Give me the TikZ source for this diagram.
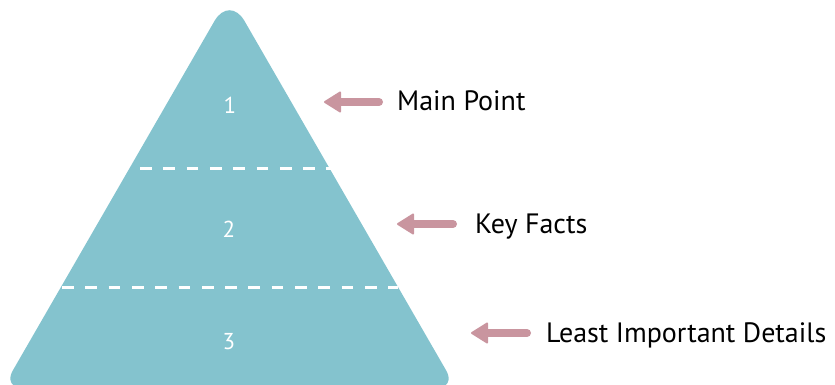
\documentclass[tikz,border=0pt]{standalone}
\usepackage{fontspec}
\setmainfont{PT Sans}
\usetikzlibrary{arrows.meta}
\definecolor{pyramidblue}{HTML}{84C3CE}
\definecolor{arrowpink}{HTML}{C9959F}
\tikzset{
		% Styles for the pyramid: layer lines, numbers, pointers and labels
		layer line/.style={draw=white,line width=3pt,dash pattern=on 11.7pt off 11.6pt},
		layer number/.style={text=white,inner sep=0,font=\fontsize{23}{27}\selectfont},
		pointer/.style={draw=arrowpink,line width=8pt,line cap=round,
			-{Triangle[length=18pt,width=22pt,round,line width=2pt]}},
		label text/.style={anchor=west,inner sep=0,text height=18pt,text depth=0pt,
			font=\fontsize{28}{32}\selectfont}
	}
\begin{document}
\begin{tikzpicture}[x=1pt,y=-1pt]
		\useasboundingbox (0,0) rectangle (835,385);
		% the pyramid
		\coordinate (baseL) at (2.7,388);
		\coordinate (apex) at (229.5,-5);
		\coordinate (baseR) at (456.3,388);
		\fill[pyramidblue,rounded corners=20pt] (baseL)
			[rounded corners=30pt] -- (apex)
			[rounded corners=20pt] -- (baseR) -- cycle;
		% dashed lines between the layers
		\coordinate (cut1L) at (140,168);
		\coordinate (cut1R) at (332,168);
		\coordinate (cut2L) at (62,287);
		\coordinate (cut2R) at (398,287);
		\draw[layer line] (cut1L) -- (cut1R);
		\draw[layer line] (cut2L) -- (cut2R);
		\node[layer number] (n1) at (230,105) {1};
		\node[layer number] (n2) at (229,229) {2};
		\node[layer number] (n3) at (229,342) {3};
		% labels and pointers
		\node[label text] (main) at (397,102) {Main Point};
		\node[label text] (facts) at (475,224) {Key Facts};
		\node[label text] (details) at (546,333) {Least Important Details};
		\coordinate (tip1) at (324,102);
		\coordinate (tip2) at (397,224);
		\coordinate (tip3) at (471,333);
		\draw[pointer,shorten <=18pt] (main.west) -- (tip1);
		\draw[pointer,shorten <=22pt] (facts.west) -- (tip2);
		\draw[pointer,shorten <=19pt] (details.west) -- (tip3);
	\end{tikzpicture}
\end{document}
